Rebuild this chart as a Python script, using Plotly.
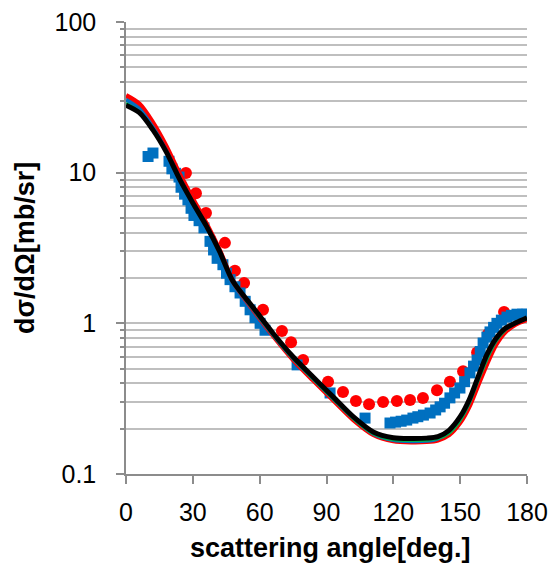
import plotly.graph_objects as go

# ---- data ----
curve_angle = [0, 6, 12, 18, 24, 30, 36, 42, 48, 57, 66, 75, 84, 93, 102, 111, 120, 128, 135, 140, 145, 150, 154, 158, 162, 166, 170, 175, 180]
curve_red = [32.5, 28.5, 21.5, 15, 9.8, 6.7, 4.6, 3.05, 1.9, 1.24, 0.83, 0.575, 0.42, 0.31, 0.23, 0.183, 0.166, 0.163, 0.164, 0.168, 0.182, 0.22, 0.28, 0.39, 0.54, 0.72, 0.87, 0.99, 1.06]
curve_blue = [30.5, 26.5, 20, 14, 9.2, 6.3, 4.4, 2.95, 1.88, 1.25, 0.84, 0.585, 0.43, 0.317, 0.235, 0.185, 0.168, 0.165, 0.166, 0.172, 0.19, 0.232, 0.30, 0.43, 0.59, 0.77, 0.91, 1.01, 1.08]
curve_green = [29, 25.5, 19.5, 13.8, 9.0, 6.2, 4.35, 2.93, 1.86, 1.24, 0.835, 0.58, 0.425, 0.313, 0.232, 0.184, 0.168, 0.166, 0.167, 0.171, 0.185, 0.225, 0.29, 0.41, 0.57, 0.75, 0.89, 1.0, 1.07]
curve_black = [28, 25, 19.3, 13.8, 9.1, 6.3, 4.45, 3.0, 1.9, 1.28, 0.86, 0.60, 0.44, 0.325, 0.24, 0.19, 0.174, 0.172, 0.173, 0.177, 0.195, 0.24, 0.31, 0.44, 0.62, 0.79, 0.92, 1.01, 1.09]

red_angle = [26.9, 31.4, 35.9, 44.4, 48.9, 53.0, 61.5, 70.0, 74.1, 79.5, 90.7, 97.4, 103.2, 109.1, 115.4, 121.6, 127.5, 133.3, 139.6, 145.4, 151.3, 157.6, 162.5, 169.7]
red_value = [9.95, 7.3, 5.4, 3.42, 2.23, 1.85, 1.23, 0.89, 0.75, 0.57, 0.41, 0.35, 0.305, 0.29, 0.30, 0.305, 0.31, 0.32, 0.36, 0.41, 0.48, 0.64, 0.85, 1.19]

blue_angle = [9.9, 12.1, 19.3, 20.6, 22.2, 23.8, 24.7, 26.3, 27.8, 29.2, 30.5, 32.8, 35.0, 37.7, 39.3, 40.9, 43.5, 45.1, 46.7, 48.9, 51.2, 53.5, 55.7, 57.9, 60.2, 62.4, 76.8, 91.6, 107.3,
              118.5, 121, 123.5, 126, 128.8, 131, 133.5, 136.5, 139, 141, 143, 145.4, 147.5, 149.9, 152, 154.4, 156, 157.6, 159,
              160.3, 162, 163.4, 165, 166.5, 168.5, 171, 173, 175.5, 178, 180]
blue_value = [12.8, 13.5, 11.9, 10.6, 9.9, 9.35, 8.0, 7.2, 6.6, 5.8, 5.2, 4.8, 4.3, 3.5, 3.07, 2.7, 2.45, 2.15, 1.95, 1.75, 1.59, 1.4, 1.23, 1.09, 1.0, 0.90, 0.53, 0.345, 0.235,
              0.218, 0.221, 0.224, 0.228, 0.235, 0.24, 0.246, 0.254, 0.266, 0.279, 0.295, 0.32, 0.345, 0.372, 0.41, 0.469, 0.52, 0.571, 0.65,
              0.74, 0.81, 0.877, 0.94, 1.0, 1.05, 1.10, 1.13, 1.15, 1.15, 1.15]

x_ticks = [0, 30, 60, 90, 120, 150, 180]
y_ticks = [0.1, 1, 10, 100]
y_tick_text = ["0.1", "1", "10", "100"]
y_minor = [m * d for d in (0.1, 1, 10) for m in range(2, 10)]

FONT = "Arial, Liberation Sans, sans-serif"
AXIS_COLOR = "#8C8C8C"
GRID_COLOR = "#BFBFBF"

fig = go.Figure()
fig.add_trace(go.Scatter(x=red_angle, y=red_value, mode="markers",
                         marker=dict(symbol="circle", size=12, color="#FF0000"), showlegend=False))
fig.add_trace(go.Scatter(x=blue_angle, y=blue_value, mode="markers",
                         marker=dict(symbol="square", size=11, color="#0070C0"), showlegend=False))
fig.add_trace(go.Scatter(x=curve_angle, y=curve_red, mode="lines", line=dict(color="#FF0000", width=5, shape="spline", smoothing=0.8), showlegend=False))
fig.add_trace(go.Scatter(x=curve_angle, y=curve_blue, mode="lines", line=dict(color="#0070C0", width=4, shape="spline", smoothing=0.8), showlegend=False))
fig.add_trace(go.Scatter(x=curve_angle, y=curve_green, mode="lines", line=dict(color="#00B050", width=2.5, shape="spline", smoothing=0.8), showlegend=False))
fig.add_trace(go.Scatter(x=curve_angle, y=curve_black, mode="lines", line=dict(color="#000000", width=5, shape="spline", smoothing=0.8), showlegend=False))

fig.update_layout(
    width=552, height=565,
    margin=dict(l=126, r=25, t=22, b=91, autoexpand=False),
    paper_bgcolor="white", plot_bgcolor="white",
    font=dict(family=FONT, size=25, color="black"),
    xaxis=dict(range=[0, 180], tickvals=x_ticks, ticks="outside", ticklen=8, tickwidth=1.5, tickcolor=AXIS_COLOR,
               showline=True, linecolor=AXIS_COLOR, linewidth=1.5, showgrid=False, zeroline=False, automargin=False,
               tickfont=dict(size=25, family=FONT), ticklabelstandoff=7, ticklabeloverflow="allow"),
    yaxis=dict(type="log", range=[-1, 2], tickvals=y_ticks, ticktext=y_tick_text, ticks="outside", ticklen=8, tickwidth=1.5,
               tickcolor=AXIS_COLOR, showline=True, linecolor=AXIS_COLOR, linewidth=1.5, automargin=False,
               showgrid=True, gridcolor=GRID_COLOR, gridwidth=1.5, zeroline=False,
               tickfont=dict(size=25, family=FONT), ticklabelstandoff=15, ticklabeloverflow="allow",
               minor=dict(tickvals=y_minor, ticks="outside", ticklen=4, tickwidth=1.5, tickcolor=AXIS_COLOR,
                          showgrid=True, gridcolor=GRID_COLOR, gridwidth=1.5)),
    annotations=[
        dict(text="<b>scattering angle[deg.]</b>", xref="paper", yref="paper", x=0.511, y=-0.164,
             xanchor="center", yanchor="middle", showarrow=False, font=dict(size=27, family=FONT, color="black")),
        dict(text="<b>dσ/dΩ[mb/sr]</b>", xref="paper", yref="paper", x=-0.252, y=0.5, textangle=-90,
             xanchor="center", yanchor="middle", showarrow=False, font=dict(size=27, family=FONT, color="black")),
    ],
)

fig.write_html("out.html", config={"displayModeBar": False},
               post_script="document.body.style.margin='0';document.body.style.overflow='hidden';")
